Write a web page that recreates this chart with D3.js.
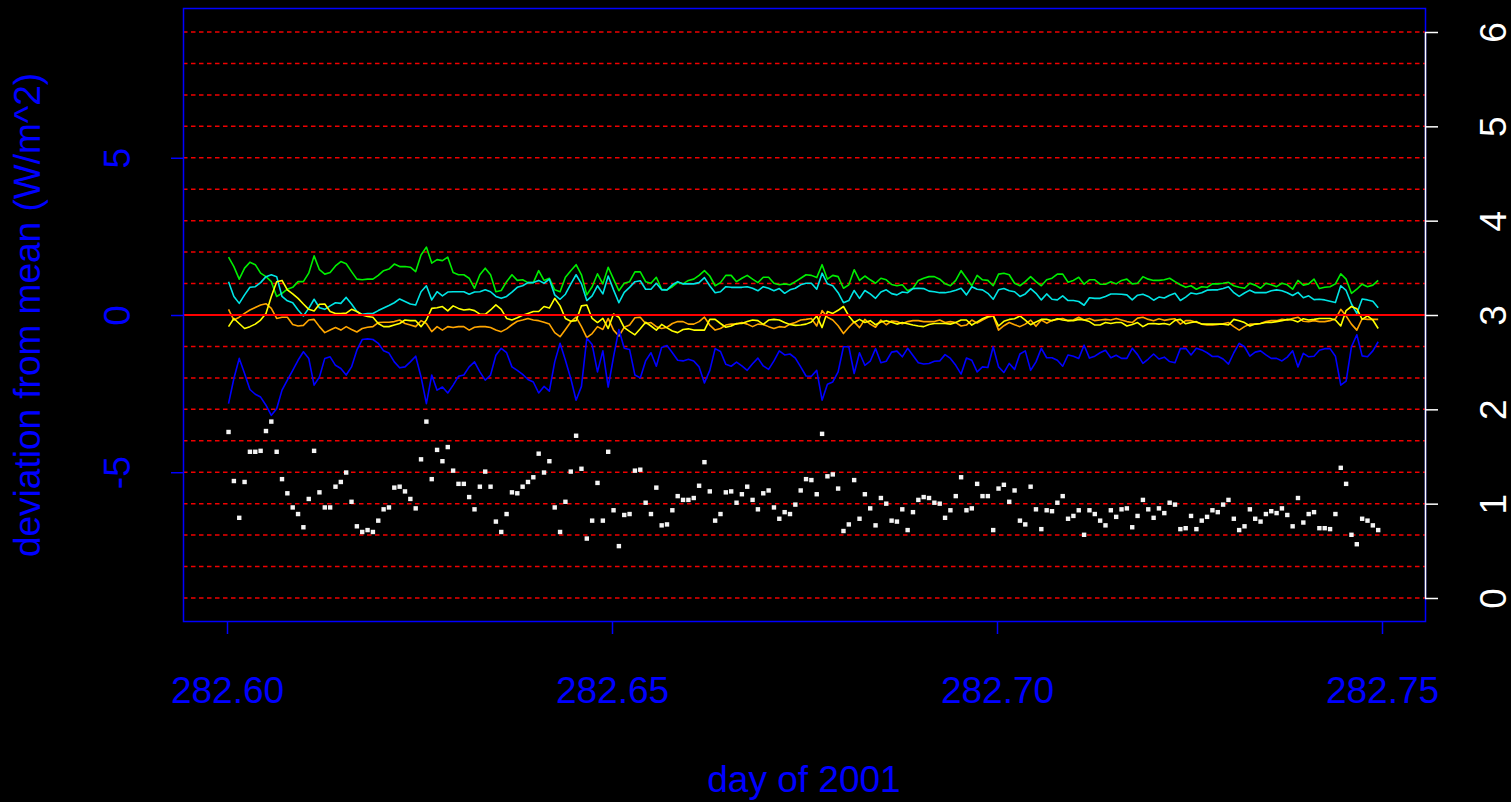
<!DOCTYPE html>
<html>
<head>
<meta charset="utf-8">
<script src="https://cdn.jsdelivr.net/npm/d3@7"></script>
<style>
body { margin: 0; background: #000; }
text { font-family: "Liberation Sans", Arial, Helvetica, sans-serif; }
</style>
</head>
<body>
<div id="chart"></div>
<script>
// one reading per minute, day of year 2001
var startDay = 282.6002, stepDay = 1 / 1440;

// deviation from mean (W/m^2), left axis
var greenSeries = [
  1.84,1.54,1.14,1.49,1.68,1.6,1.33,1.22,1.06,0.59,0.69,0.82,0.88,1.06,1.06,1.33,1.88,1.44,1.3,1.35,1.56,1.7,1.63,1.38,1.14,1.12,1.14,1.14,1.26,1.41,1.46,1.62,1.54,1.54,1.52,1.38,1.91,2.16,1.65,1.76,1.73,1.84,1.35,1.28,1.28,1.17,0.85,1.28,1.49,1.28,0.74,0.78,
  1.06,1.28,1.1,1.12,1.03,1.03,1.41,1.1,1.17,0.8,0.74,1.2,1.41,1.6,1.28,0.64,0.9,1.31,0.99,1.52,1.14,0.77,1.01,1.06,1.37,1.37,1.06,1.01,1.2,0.82,0.8,0.9,1.04,0.99,1.1,1.14,1.26,1.41,1.24,0.93,1.03,1.26,1.26,1.06,1.17,1.26,1.14,1.03,1.2,1.2,1.01,0.96,0.99,0.96,1.06,1.17,1.28,
  1.26,1.19,1.6,1.14,1.26,1.22,0.85,0.96,1.44,1.1,1.24,1.12,1.01,1.17,1.12,0.97,0.93,0.96,0.77,0.85,1.1,1.17,1.22,1.22,1.14,0.99,0.93,1.1,1.41,1.17,0.93,1.26,1.12,1.1,0.93,1.3,1.33,1.28,1.01,0.93,1.06,1.22,1.06,0.93,1.12,1.17,1.3,1.3,1.04,1.1,1.2,0.98,1.12,1.12,0.98,0.98,1.06,0.99,
  1.1,1.14,0.99,1.01,1.22,1.14,1.1,1.1,1.12,1.17,1.06,0.96,0.88,0.93,0.82,0.9,0.88,0.99,0.99,1.01,1.04,0.93,0.88,0.85,1.01,0.95,0.85,1.01,0.96,0.9,1.01,0.96,0.82,1.1,0.95,0.99,1.14,0.84,0.88,0.9,0.99,1.31,1.14,0.69,0.82,0.98,0.9,0.95,1.1
];
var cyanSeries = [
  1.06,0.59,0.37,0.64,0.88,0.9,1.03,1.22,1.28,1.22,0.59,0.45,0.39,0.16,-0.03,0.21,0.5,0.23,0.18,0.29,0.39,0.37,0.56,0.35,0.11,0.02,0.05,0.05,0.14,0.22,0.3,0.39,0.51,0.43,0.35,0.32,0.74,0.93,0.48,0.74,0.61,0.73,0.74,0.74,0.74,0.66,0.73,0.74,0.8,0.74,0.59,0.53,
  0.59,0.73,0.88,0.93,1.03,1.03,1.1,1.01,1.14,0.64,0.5,0.66,0.98,1.28,0.99,0.46,0.61,0.93,0.67,1.24,0.8,0.39,0.72,0.88,1.06,1.09,0.82,0.82,1.01,0.8,0.8,0.96,1.06,0.99,0.99,0.99,1.03,1.19,0.93,0.71,0.74,0.9,0.88,0.88,0.88,0.9,0.85,0.77,0.9,0.85,0.77,0.84,0.69,0.8,0.85,0.96,1.01,
  1.01,0.82,1.33,0.99,0.93,0.71,0.39,0.46,0.78,0.53,0.78,0.67,0.53,0.73,0.8,0.68,0.64,0.73,0.71,0.84,0.85,0.84,0.76,0.74,0.71,0.71,0.74,0.79,0.85,0.64,0.9,0.82,0.8,0.69,0.5,0.8,0.84,0.77,0.74,0.59,0.67,0.84,0.69,0.48,0.67,0.5,0.48,0.61,0.46,0.46,0.43,0.31,0.55,0.53,0.53,0.59,0.67,0.67,
  0.66,0.64,0.48,0.63,0.66,0.59,0.47,0.57,0.54,0.63,0.69,0.46,0.57,0.7,0.67,0.71,0.79,0.8,0.8,0.84,0.9,0.71,0.59,0.7,0.79,0.71,0.71,0.71,0.77,0.8,0.77,0.71,0.62,0.72,0.55,0.61,0.49,0.5,0.48,0.44,0.4,0.93,0.78,0.35,0.05,0.51,0.48,0.44,0.23
];
var yellowSeries = [
  -0.37,-0.11,-0.27,-0.43,-0.37,-0.29,-0.16,0.05,0.59,1.06,1.1,0.8,0.67,0.53,0.35,0.18,0.13,0.34,0.35,0.11,0.05,0.05,0.06,0.18,0.11,0,-0.05,-0.07,-0.27,-0.37,-0.37,-0.32,-0.27,-0.16,-0.18,-0.18,-0.37,-0.16,0.21,0.23,0.27,0.13,0.29,0.21,0.16,0.18,0.14,0.03,0.02,0.16,0.32,0.18,
  -0.11,-0.16,-0.09,-0.01,0.05,0.11,0.11,0.27,0.22,0.53,0.29,-0.11,-0.2,-0.18,0.29,0.32,-0.11,-0.24,-0.11,-0.43,0.03,-0.07,-0.4,-0.52,-0.63,-0.44,-0.23,-0.35,-0.48,-0.3,-0.41,-0.51,-0.56,-0.46,-0.44,-0.48,-0.48,-0.48,-0.14,-0.14,-0.27,-0.39,-0.35,-0.27,-0.27,-0.21,-0.16,-0.18,-0.3,-0.16,-0.14,-0.16,-0.24,-0.3,-0.33,-0.32,-0.29,
  -0.22,-0.03,-0.4,0.11,0.05,0.15,0.27,-0.03,-0.24,-0.14,-0.24,-0.18,-0.31,-0.22,-0.18,-0.23,-0.29,-0.24,-0.28,-0.32,-0.35,-0.37,-0.3,-0.27,-0.27,-0.27,-0.29,-0.24,-0.16,-0.16,-0.32,-0.22,-0.12,-0.05,-0.01,-0.35,-0.2,-0.14,-0.12,-0.03,-0.16,-0.31,-0.22,-0.14,-0.14,-0.18,-0.12,-0.16,-0.18,-0.18,-0.14,-0.16,-0.21,-0.32,-0.32,-0.24,-0.27,-0.24,
  -0.24,-0.35,-0.3,-0.24,-0.37,-0.28,-0.27,-0.29,-0.27,-0.31,-0.17,-0.14,-0.28,-0.24,-0.21,-0.29,-0.29,-0.29,-0.29,-0.29,-0.32,-0.14,-0.18,-0.24,-0.35,-0.29,-0.27,-0.24,-0.24,-0.21,-0.18,-0.14,-0.16,-0.22,-0.12,-0.16,-0.14,-0.11,-0.11,-0.11,-0.16,-0.35,0.14,0.27,0.2,-0.14,-0.03,-0.16,-0.43
];
var orangeSeries = [
  0.18,-0.16,-0.07,0.05,0.16,0.24,0.32,0.36,0.21,-0.11,-0.07,-0.07,-0.3,-0.35,-0.33,-0.16,-0.14,-0.37,-0.56,-0.48,-0.4,-0.48,-0.37,-0.46,-0.54,-0.43,-0.39,-0.37,-0.24,-0.23,-0.23,-0.21,-0.16,-0.27,-0.32,-0.37,-0.18,-0.27,-0.53,-0.37,-0.48,-0.37,-0.4,-0.37,-0.37,-0.48,-0.39,-0.37,-0.37,-0.4,-0.48,-0.53,
  -0.44,-0.31,-0.2,-0.16,-0.11,-0.16,-0.18,-0.23,-0.29,-0.56,-0.69,-0.46,-0.22,-0.07,-0.37,-0.72,-0.59,-0.37,-0.46,-0.11,-0.48,-0.67,-0.39,-0.32,-0.09,-0.07,-0.27,-0.24,-0.37,-0.43,-0.39,-0.27,-0.21,-0.21,-0.29,-0.29,-0.21,-0.07,-0.32,-0.48,-0.43,-0.32,-0.29,-0.29,-0.24,-0.29,-0.37,-0.29,-0.3,-0.37,-0.43,-0.37,-0.39,-0.29,-0.24,-0.16,-0.14,
  -0.11,-0.35,0.14,-0.07,-0.16,-0.34,-0.59,-0.39,-0.22,-0.4,-0.14,-0.29,-0.39,-0.16,-0.31,-0.19,-0.21,-0.28,-0.21,-0.18,-0.18,-0.21,-0.21,-0.21,-0.16,-0.24,-0.21,-0.24,-0.35,-0.32,-0.16,-0.26,-0.16,-0.07,-0.03,-0.48,-0.34,-0.24,-0.31,-0.37,-0.29,-0.16,-0.36,-0.16,-0.26,-0.17,-0.14,-0.11,-0.18,-0.16,-0.07,-0.16,-0.11,-0.18,-0.16,-0.14,-0.16,-0.11,
  -0.16,-0.21,-0.24,-0.1,-0.07,-0.14,-0.18,-0.12,-0.17,-0.14,-0.12,-0.29,-0.18,-0.18,-0.23,-0.29,-0.32,-0.32,-0.3,-0.28,-0.24,-0.37,-0.48,-0.37,-0.29,-0.29,-0.27,-0.21,-0.18,-0.18,-0.14,-0.16,-0.11,-0.07,-0.2,-0.21,-0.18,-0.21,-0.21,-0.18,-0.12,0.18,-0.03,-0.29,-0.48,-0.12,-0.14,-0.14,-0.14
];
var blueSeries = [
  -2.82,-2.02,-1.38,-1.86,-2.37,-2.52,-2.61,-2.87,-3.19,-2.98,-2.39,-2.07,-1.76,-1.44,-1.17,-1.38,-2.23,-1.97,-1.38,-1.33,-1.6,-1.7,-1.91,-1.65,-1.12,-0.78,-0.76,-0.78,-0.9,-1.14,-1.21,-1.49,-1.68,-1.65,-1.49,-1.31,-1.97,-2.82,-1.91,-2.39,-2.29,-2.48,-2.23,-1.95,-1.91,-1.65,-1.49,-1.81,-2.07,-1.91,-1.28,-1.06,
  -1.2,-1.65,-1.76,-1.89,-2.05,-2.13,-2.48,-2.27,-2.42,-1.49,-0.9,-1.44,-2.02,-2.71,-2.27,-0.74,-0.94,-1.81,-1.14,-2.29,-1.33,-0.46,-1.06,-1.1,-1.91,-2.0,-1.46,-1.2,-1.63,-1.03,-0.97,-1.2,-1.44,-1.46,-1.41,-1.46,-1.65,-2.16,-1.76,-1.07,-1.16,-1.57,-1.63,-1.5,-1.62,-1.76,-1.55,-1.37,-1.62,-1.73,-1.46,-1.14,-1.27,-1.24,-1.37,-1.65,-1.94,
  -1.95,-1.76,-2.71,-2.2,-2.13,-1.81,-1.01,-1.01,-1.86,-1.2,-1.6,-1.47,-1.07,-1.52,-1.47,-1.18,-1.15,-1.33,-1.06,-1.29,-1.52,-1.56,-1.54,-1.47,-1.46,-1.26,-1.38,-1.6,-1.88,-1.37,-1.44,-1.81,-1.65,-1.67,-1.01,-1.65,-1.83,-1.54,-1.73,-1.24,-1.14,-1.76,-1.49,-1.06,-1.36,-1.36,-1.44,-1.63,-1.27,-1.31,-1.38,-0.96,-1.37,-1.31,-1.2,-1.12,-1.36,-1.28,
  -1.38,-1.38,-1.06,-1.26,-1.54,-1.4,-1.24,-1.4,-1.34,-1.48,-1.52,-1.07,-1.06,-1.27,-1.06,-1.11,-1.2,-1.32,-1.31,-1.4,-1.56,-1.2,-0.9,-1.01,-1.31,-1.18,-1.14,-1.27,-1.38,-1.38,-1.46,-1.34,-1.14,-1.65,-1.22,-1.33,-1.31,-1.12,-1.07,-1.07,-1.31,-2.23,-2.1,-1.01,-0.63,-1.3,-1.33,-1.14,-0.85
];
// white points, right axis
var dotSeries = [
  1.76,1.24,0.85,1.23,1.55,1.55,1.56,1.77,1.87,1.55,1.26,1.11,0.96,0.89,0.75,1.05,1.56,1.12,0.96,0.96,1.18,1.23,1.33,1.02,0.76,0.70,0.72,0.70,0.82,0.94,0.96,1.17,1.18,1.13,1.05,0.95,1.47,1.87,1.26,1.57,1.45,1.60,1.35,1.21,1.21,1.07,0.94,1.18,1.34,1.18,0.81,0.70,
  0.89,1.12,1.11,1.18,1.23,1.28,1.53,1.33,1.45,0.96,0.70,1.02,1.34,1.72,1.37,0.63,0.82,1.22,0.82,1.55,0.93,0.55,0.88,0.89,1.35,1.36,1.01,0.89,1.17,0.77,0.78,0.93,1.08,1.04,1.04,1.06,1.19,1.44,1.13,0.82,0.89,1.12,1.13,1.01,1.10,1.18,1.04,0.94,1.11,1.14,0.96,0.84,0.91,0.89,0.99,1.14,1.26,
  1.25,1.10,1.74,1.29,1.31,1.16,0.71,0.78,1.25,0.84,1.10,0.95,0.77,1.06,1.00,0.82,0.81,0.94,0.72,0.91,1.04,1.07,1.06,1.01,1.00,0.85,0.93,1.08,1.28,0.93,0.95,1.21,1.08,1.08,0.72,1.16,1.20,1.02,1.14,0.82,0.78,1.18,0.94,0.73,0.93,0.92,1.01,1.08,0.84,0.87,0.93,0.67,0.93,0.89,0.82,0.77,0.93,0.86,
  0.94,0.95,0.75,0.87,1.04,0.94,0.85,0.95,0.90,1.01,0.99,0.73,0.74,0.87,0.73,0.82,0.86,0.93,0.91,0.99,1.04,0.84,0.72,0.76,0.94,0.84,0.81,0.89,0.92,0.90,0.95,0.88,0.76,1.06,0.80,0.89,0.91,0.74,0.74,0.73,0.89,1.38,1.21,0.67,0.57,0.84,0.82,0.77,0.72
];

var xTicks = [282.60, 282.65, 282.70, 282.75];
var leftTicks = [-5, 0, 5];
var rightTicks = [0, 1, 2, 3, 4, 5, 6];
var gridLevels = [-9,-8,-7,-6,-5,-4,-3,-2,-1,1,2,3,4,5,6,7,8,9];

var lineSeries = [
  {name: "green", values: greenSeries, color: "#00ee00"},
  {name: "cyan", values: cyanSeries, color: "#00e5e5"},
  {name: "orange", values: orangeSeries, color: "#ffa500"},
  {name: "yellow", values: yellowSeries, color: "#ffff00"},
  {name: "blue", values: blueSeries, color: "#0000ff"}
];

var width = 1511, height = 802;
var box = {left: 183, right: 1425, top: 8, bottom: 622};
var blue = "#0000ff";

var x = d3.scaleLinear().domain([282.60, 282.75]).range([227, 1382]);
var y = d3.scaleLinear().domain([-9, 9]).range([598, 32]);
var yRight = d3.scaleLinear().domain([0, 6]).range([598, 32]);

function dayAt(i) { return startDay + i * stepDay; }

var svg = d3.select("#chart")
    .append("svg")
        .attr("width", width)
        .attr("height", height)
        .style("display", "block")
        .style("background", "#000");

// dashed red grid
svg.append("g").selectAll("line")
    .data(gridLevels)
    .enter().append("line")
        .attr("x1", box.left)
        .attr("x2", box.right)
        .attr("y1", function(d) { return y(d); })
        .attr("y2", function(d) { return y(d); })
        .attr("stroke", "#f00000")
        .attr("stroke-width", 1.5)
        .attr("stroke-dasharray", "4.5,3.5");

// series lines
var line = d3.line()
    .x(function(d, i) { return x(dayAt(i)); })
    .y(function(d) { return y(d); });

lineSeries.forEach(function(s) {
    svg.append("path")
        .attr("d", line(s.values))
        .attr("fill", "none")
        .attr("stroke", s.color)
        .attr("stroke-width", 1.6)
        .attr("stroke-linejoin", "round");
});

// white points
svg.append("g").selectAll("rect")
    .data(dotSeries)
    .enter().append("rect")
        .attr("x", function(d, i) { return x(dayAt(i)) - 2.2; })
        .attr("y", function(d) { return yRight(d) - 2.2; })
        .attr("width", 4.4)
        .attr("height", 4.4)
        .attr("fill", "#f4f4f4");

// zero line
svg.append("line")
    .attr("x1", box.left)
    .attr("x2", box.right)
    .attr("y1", y(0))
    .attr("y2", y(0))
    .attr("stroke", "#ff0000")
    .attr("stroke-width", 2.2);

// plot box
svg.append("rect")
    .attr("x", box.left + 0.5)
    .attr("y", box.top + 0.5)
    .attr("width", box.right - box.left)
    .attr("height", box.bottom - box.top - 1)
    .attr("fill", "none")
    .attr("stroke", blue)
    .attr("stroke-width", 1.5);

// left axis
var gLeft = svg.append("g")
    .attr("transform", "translate(" + box.left + ",0)")
    .call(d3.axisLeft(y).tickValues(leftTicks).tickSize(12).tickSizeOuter(0).tickFormat(d3.format("d")));
gLeft.select(".domain").remove();
gLeft.selectAll("line").attr("stroke", blue).attr("stroke-width", 1.5);
gLeft.selectAll("text")
    .attr("x", null).attr("dy", null)
    .attr("transform", "translate(-53,0) rotate(-90)")
    .attr("text-anchor", "middle")
    .attr("fill", blue)
    .style("font-size", "37px")
    .text(function(d) { return d < 0 ? "-" + Math.abs(d) : d; });

// bottom axis
var gBottom = svg.append("g")
    .attr("transform", "translate(0," + box.bottom + ")")
    .call(d3.axisBottom(x).tickValues(xTicks).tickSize(12).tickSizeOuter(0).tickFormat(d3.format(".2f")));
gBottom.select(".domain").remove();
gBottom.selectAll("line").attr("stroke", blue).attr("stroke-width", 1.5);
gBottom.selectAll("text")
    .attr("y", 81).attr("dy", null)
    .attr("fill", blue)
    .style("font-size", "37px");

// right axis
var gRight = svg.append("g")
    .attr("transform", "translate(" + box.right + ",0)")
    .call(d3.axisRight(yRight).tickValues(rightTicks).tickSize(13).tickSizeOuter(0).tickFormat(d3.format("d")));
gRight.select(".domain").attr("stroke", "#ffffff").attr("stroke-width", 1.5);
gRight.selectAll("line").attr("stroke", "#ffffff").attr("stroke-width", 1.5);
gRight.selectAll("text")
    .attr("x", null).attr("dy", null)
    .attr("transform", "translate(81,0) rotate(-90)")
    .attr("text-anchor", "middle")
    .attr("fill", "#ffffff")
    .style("font-size", "37px");

// axis titles
svg.append("text")
    .attr("x", (box.left + box.right) / 2)
    .attr("y", 792)
    .attr("text-anchor", "middle")
    .attr("fill", blue)
    .style("font-size", "37px")
    .text("day of 2001");

svg.append("text")
    .attr("transform", "translate(40," + ((box.top + box.bottom) / 2) + ") rotate(-90)")
    .attr("text-anchor", "middle")
    .attr("fill", blue)
    .style("font-size", "37px")
    .text("deviation from mean (W/m^2)");
</script>
</body>
</html>
